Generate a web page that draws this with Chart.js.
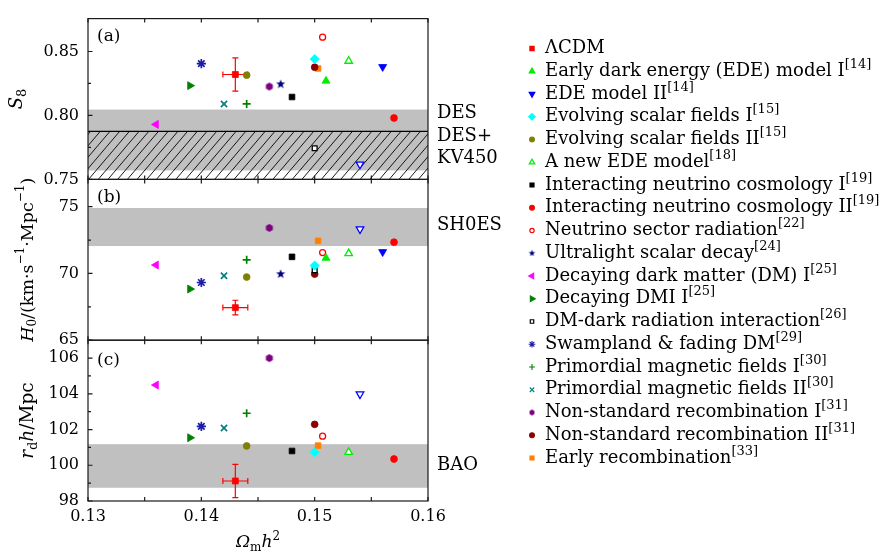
<!DOCTYPE html>
<html>
<head>
<meta charset="utf-8">
<script src="https://cdn.jsdelivr.net/npm/chart.js@4.4.1/dist/chart.umd.min.js"></script>
<style>
  html, body { margin: 0; padding: 0; background: #fff; }
  #wrap { position: relative; width: 881px; height: 553px; }
</style>
</head>
<body>
<div id="wrap"><canvas id="chart" width="881" height="553"></canvas></div>
<script>
// models, in legend order (last one has no legend entry in the figure)
const models = ["ΛCDM", "Early dark energy (EDE) model I", "EDE model II", "Evolving scalar fields I",
  "Evolving scalar fields II", "A new EDE model", "Interacting neutrino cosmology I",
  "Interacting neutrino cosmology II", "Neutrino sector radiation", "Ultralight scalar decay",
  "Decaying dark matter (DM) I", "Decaying DMI I", "DM-dark radiation interaction",
  "Swampland & fading DM", "Primordial magnetic fields I", "Primordial magnetic fields II",
  "Non-standard recombination I", "Non-standard recombination II", "Early recombination", null];
const refs = ["", "14", "14", "15", "15", "18", "19", "19", "22", "24", "25", "25", "26", "29", "30", "30", "31", "31", "33", ""];

const omegaMh2 = [0.143, 0.151, 0.156, 0.150, 0.144, 0.153, 0.148, 0.157, 0.1507, 0.147,
  0.136, 0.139, 0.150, 0.140, 0.144, 0.142, 0.146, 0.150, 0.1503, 0.154];
const s8 = [0.832, 0.827, 0.838, 0.844, 0.8315, 0.8425, 0.8144, 0.798, 0.8612, 0.8244,
  0.793, 0.8233, 0.7744, 0.8405, 0.809, 0.809, 0.8226, 0.8377, 0.8367, 0.7618];
const h0 = [67.44, 71.15, 71.61, 70.59, 69.73, 71.49, 71.24, 72.34, 71.56, 69.95,
  70.63, 68.83, 70.24, 69.32, 71.02, 69.83, 73.41, 69.95, 72.44, 73.32];
const rdh = [99.12, null, null, 100.73, 101.08, 100.73, 100.8, 100.35, 101.63, null,
  104.49, 101.54, null, 102.18, 102.91, 102.09, 106.0, 102.29, 101.1, 103.98];

// ΛCDM error bars
const lcdmErrX = 0.0011;
const lcdmErrS8 = 0.013;
const lcdmErrH0 = 0.55;
const lcdmErrRdh = 0.93;

// observational bands
const desBand = [0.757, 0.8046];
const kvBand = [0.70, 0.7875];
const sh0esBand = [72.05, 74.9];
const baoBand = [98.74, 101.18];

const xTicks = [0.13, 0.14, 0.15, 0.16];
const xMinor = [0.135, 0.145, 0.155];
const s8Ticks = [0.75, 0.80, 0.85];
const s8Minor = [0.775, 0.825];
const h0Ticks = [65, 70, 75];
const h0Minor = [67.5, 72.5];
const rdhTicks = [98, 100, 102, 104, 106];
const rdhMinor = [99, 101, 103, 105];

const SERIF = '"DejaVu Serif", serif';

function makeShape(kind, r, color) {
  const c = document.createElement("canvas");
  const n = Math.ceil(r * 2 + 2);
  c.width = n; c.height = n;
  const g = c.getContext("2d");
  g.fillStyle = color;
  g.beginPath();
  const pts = kind === "star5" ? 10 : 6;
  for (let k = 0; k < pts; k++) {
    const a = -Math.PI / 2 + k * 2 * Math.PI / pts;
    const rr = (kind === "star5" && k % 2) ? r * 0.42 : r;
    const px = n / 2 + rr * Math.cos(a), py = n / 2 + rr * Math.sin(a);
    if (k) g.lineTo(px, py); else g.moveTo(px, py);
  }
  g.closePath();
  g.fill();
  return c;
}

// marker look for each model
const styles = [
  { c: "#ff0000", s: "rect", r: 4.2 },
  { c: "#00ee00", s: "triangle", r: 4.6 },
  { c: "#0000ff", s: "triangle", rot: 180, r: 4.6 },
  { c: "#00ffff", s: "rectRot", r: 4.6 },
  { c: "#808000", s: "circle", r: 3.4 },
  { c: "#00ee00", s: "triangle", r: 4.4, open: true },
  { c: "#000000", s: "rect", r: 4 },
  { c: "#ff0000", s: "circle", r: 3.4 },
  { c: "#ff0000", s: "circle", r: 3, open: true },
  { c: "#000080", s: "star5", r: 4.8 },
  { c: "#ff00ff", s: "triangle", rot: -90, r: 4.6 },
  { c: "#008000", s: "triangle", rot: 90, r: 4.6 },
  { c: "#000000", s: "rect", r: 3.4, open: true },
  { c: "#1c1ca8", s: "star", r: 4.6 },
  { c: "#008000", s: "cross", r: 4 },
  { c: "#008080", s: "crossRot", r: 4.4 },
  { c: "#800080", s: "hex", r: 4 },
  { c: "#8b0000", s: "circle", r: 3.4 },
  { c: "#ff8000", s: "rect", r: 4 },
  { c: "#0000ff", s: "triangle", rot: 180, r: 4.4, open: true }
];

function styleFor(st, scale) {
  if (st.s === "star5" || st.s === "hex") return makeShape(st.s, st.r * scale, st.c);
  return st.s;
}

const panels = [
  { id: "yA", vals: s8 },
  { id: "yB", vals: h0 },
  { id: "yC", vals: rdh }
];

const datasets = [];
panels.forEach(p => {
  models.forEach((m, i) => {
    if (p.vals[i] == null) return;
    const st = styles[i];
    const isLine = ["cross", "crossRot", "star"].includes(st.s);
    datasets.push({
      label: m || "",
      yAxisID: p.id,
      data: [{ x: omegaMh2[i], y: p.vals[i] }],
      pointStyle: styleFor(st, 1),
      pointRadius: st.r,
      pointRotation: st.rot || 0,
      pointBackgroundColor: st.open ? "#ffffff" : st.c,
      pointBorderColor: st.c,
      pointBorderWidth: st.open ? 1.3 : (isLine ? 1.7 : 0.8)
    });
  });
});

function fontFor(p, size) {
  const sz = (p.sub || p.sup) ? Math.round(size * 0.7) : size;
  return (p.italic ? "italic " : "") + sz + "px " + SERIF;
}

function drawRich(ctx, parts, x, y, size, align) {
  let w = 0;
  parts.forEach(p => { ctx.font = fontFor(p, size); w += ctx.measureText(p.t).width; });
  let cx = align === "left" ? x : x - w / 2;
  ctx.textAlign = "left";
  ctx.textBaseline = "middle";
  parts.forEach(p => {
    ctx.font = fontFor(p, size);
    const dy = p.sub ? size * 0.3 : p.sup ? -size * 0.38 : 0;
    ctx.fillText(p.t, cx, y + dy);
    cx += ctx.measureText(p.t).width;
  });
}

function yScaleOpts(min, max, ticks, digits) {
  return {
    type: "linear", axis: "y", position: "left", stack: "panels", stackWeight: 1,
    min: min, max: max,
    grid: { display: false, drawTicks: false }, border: { display: false },
    afterBuildTicks: s => { s.ticks = ticks.map(v => ({ value: v })); },
    afterFit: s => { s.width = 88; },
    ticks: { color: "#000", padding: 9, font: { family: SERIF, size: 16 },
      callback: v => v.toFixed(digits) }
  };
}

const decor = {
  id: "decor",
  beforeDatasetsDraw(chart) {
    const { ctx, chartArea: { left, right }, scales } = chart;
    const w = right - left;
    ctx.save();
    ctx.fillStyle = "#c0c0c0";
    const band = (s, b) => {
      const y1 = s.getPixelForValue(b[1]), y0 = s.getPixelForValue(b[0]);
      const top = Math.max(y1, s.top), bot = Math.min(y0, s.bottom);
      ctx.fillRect(left, top, w, bot - top);
    };
    band(scales.yA, desBand);
    band(scales.yB, sh0esBand);
    band(scales.yC, baoBand);

    // DES+KV450 hatch
    const yTop = scales.yA.getPixelForValue(kvBand[1]);
    const yBot = Math.min(scales.yA.getPixelForValue(kvBand[0]), scales.yA.bottom);
    ctx.save();
    ctx.beginPath();
    ctx.rect(left, yTop, w, yBot - yTop);
    ctx.clip();
    ctx.strokeStyle = "#000";
    ctx.lineWidth = 0.9;
    ctx.beginPath();
    const h = yBot - yTop;
    for (let x0 = left - h; x0 < right + 2; x0 += 9.7) {
      ctx.moveTo(x0, yBot);
      ctx.lineTo(x0 + h * 0.85, yTop);
    }
    ctx.stroke();
    ctx.restore();
    ctx.strokeStyle = "#000";
    ctx.lineWidth = 1.3;
    ctx.beginPath();
    ctx.moveTo(left, yTop);
    ctx.lineTo(right, yTop);
    ctx.stroke();

    // ΛCDM error bars
    ctx.strokeStyle = "#ff0000";
    ctx.lineWidth = 1.2;
    const x = scales.x;
    const errs = [[scales.yA, s8[0], lcdmErrS8], [scales.yB, h0[0], lcdmErrH0], [scales.yC, rdh[0], lcdmErrRdh]];
    errs.forEach(([s, v, e]) => {
      const px = x.getPixelForValue(omegaMh2[0]);
      const py = s.getPixelForValue(v);
      const pyT = s.getPixelForValue(v + e), pyB = s.getPixelForValue(v - e);
      const pxL = x.getPixelForValue(omegaMh2[0] - lcdmErrX), pxR = x.getPixelForValue(omegaMh2[0] + lcdmErrX);
      ctx.beginPath();
      ctx.moveTo(px, pyT); ctx.lineTo(px, pyB);
      ctx.moveTo(px - 3, pyT); ctx.lineTo(px + 3, pyT);
      ctx.moveTo(px - 3, pyB); ctx.lineTo(px + 3, pyB);
      ctx.moveTo(pxL, py); ctx.lineTo(pxR, py);
      ctx.moveTo(pxL, py - 3); ctx.lineTo(pxL, py + 3);
      ctx.moveTo(pxR, py - 3); ctx.lineTo(pxR, py + 3);
      ctx.stroke();
    });
    ctx.restore();
  },
  afterDatasetsDraw(chart) {
    const { ctx, chartArea: { left, right }, scales } = chart;
    ctx.save();
    ctx.strokeStyle = "#1a1a1a";
    ctx.lineWidth = 1.2;
    const yDefs = [[scales.yA, s8Ticks, s8Minor], [scales.yB, h0Ticks, h0Minor], [scales.yC, rdhTicks, rdhMinor]];
    yDefs.forEach(([s, major, minor]) => {
      ctx.strokeRect(left, s.top, right - left, s.bottom - s.top);
      ctx.beginPath();
      major.forEach(v => { const p = s.getPixelForValue(v); ctx.moveTo(left, p); ctx.lineTo(left + 4.5, p); });
      minor.forEach(v => { const p = s.getPixelForValue(v); ctx.moveTo(left, p); ctx.lineTo(left + 3, p); });
      xTicks.concat(xMinor).forEach(v => {
        const p = scales.x.getPixelForValue(v);
        ctx.moveTo(p, s.top); ctx.lineTo(p, s.top + 4);
        ctx.moveTo(p, s.bottom); ctx.lineTo(p, s.bottom - 4);
      });
      ctx.stroke();
    });

    ctx.fillStyle = "#000";
    // panel tags
    ctx.font = "17px " + SERIF;
    ctx.textAlign = "left";
    ctx.textBaseline = "middle";
    ctx.fillText("(a)", left + 9, scales.yA.top + 18);
    ctx.fillText("(b)", left + 9, scales.yB.top + 18);
    ctx.fillText("(c)", left + 9, scales.yC.top + 20);

    // band names
    const bx = right + 9;
    ctx.font = "18px " + SERIF;
    ctx.fillText("DES", bx, 113);
    ctx.fillText("DES+", bx, 136);
    ctx.fillText("KV450", bx, 158);
    ctx.fillText("SH0ES", bx, 225);
    ctx.fillText("BAO", bx, 465);

    // axis titles
    drawRich(ctx, [{ t: "Ω", italic: true }, { t: "m", sub: true }, { t: "h", italic: true }, { t: "2", sup: true }],
      (left + right) / 2, 543, 17);
    const vTitle = (parts, cx, s, size) => {
      ctx.save();
      ctx.translate(cx, (s.top + s.bottom) / 2);
      ctx.rotate(-Math.PI / 2);
      drawRich(ctx, parts, 0, 0, size);
      ctx.restore();
    };
    vTitle([{ t: "S", italic: true }, { t: "8", sub: true }], 17, scales.yA, 18);
    vTitle([{ t: "H", italic: true }, { t: "0", sub: true }, { t: "/(km·s" }, { t: "−1", sup: true },
      { t: "·Mpc" }, { t: "−1", sup: true }, { t: ")" }], 28, scales.yB, 17.5);
    vTitle([{ t: "r", italic: true }, { t: "d", sub: true }, { t: "h", italic: true }, { t: "/Mpc" }], 28, scales.yC, 18.5);

    // legend
    const lx = 532, tx = 545, ly0 = 48.5, step = 22.75;
    let row = 0;
    models.forEach((m, i) => {
      if (!m) return;
      const st = styles[i];
      const y = ly0 + row * step;
      ctx.fillStyle = st.open ? "#ffffff" : st.c;
      ctx.strokeStyle = st.c;
      ctx.lineWidth = st.open ? 1.2 : 1.1;
      Chart.helpers.drawPoint(ctx, { pointStyle: styleFor(st, 0.72), radius: st.r * 0.72, rotation: st.rot || 0, borderWidth: 1 }, lx, y);
      ctx.fillStyle = "#000";
      const parts = [{ t: m }];
      if (refs[i]) parts.push({ t: "[" + refs[i] + "]", sup: true });
      drawRich(ctx, parts, tx, y, 18, "left");
      row++;
    });
    ctx.restore();
  }
};

new Chart(document.getElementById("chart"), {
  type: "scatter",
  data: { datasets: datasets },
  options: {
    responsive: false,
    animation: false,
    devicePixelRatio: 1,
    layout: { padding: { left: 0, right: 453, top: 9, bottom: 0 } },
    plugins: { legend: { display: false }, tooltip: { enabled: false } },
    scales: {
      x: {
        type: "linear", min: 0.13, max: 0.16,
        grid: { display: false, drawTicks: false }, border: { display: false },
        afterBuildTicks: s => { s.ticks = xTicks.map(v => ({ value: v })); },
        afterFit: s => { s.height = 52; },
        ticks: { color: "#000", padding: 6, maxRotation: 0, font: { family: SERIF, size: 16 },
          callback: v => v.toFixed(2) }
      },
      yC: yScaleOpts(98, 107, rdhTicks, 0),
      yB: yScaleOpts(65, 77.04, h0Ticks, 0),
      yA: yScaleOpts(0.75, 0.8757, s8Ticks, 2)
    }
  },
  plugins: [decor]
});
</script>
</body>
</html>
